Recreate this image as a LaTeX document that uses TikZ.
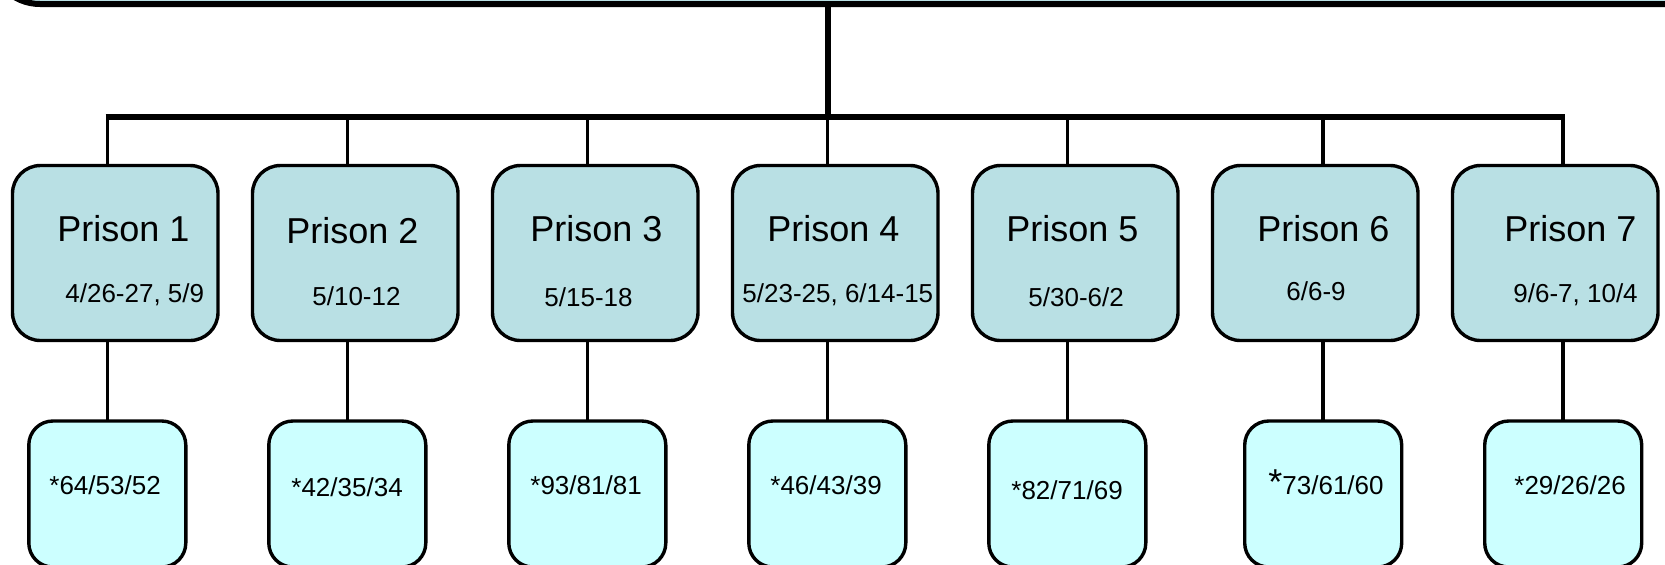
\documentclass[tikz,border=0pt]{standalone}
\usepackage{fontspec}
\setmainfont{Liberation Sans}
\definecolor{prisonfill}{RGB}{185,224,228}
\definecolor{countfill}{RGB}{204,255,255}
\begin{document}
\begin{tikzpicture}[x=0.5pt,y=-0.5pt,
  topbox/.style={draw, line width=3pt, fill=prisonfill, rounded corners=25pt, minimum width=875pt, minimum height=152pt, inner sep=0pt, outer sep=0pt},
  prisonbox/.style={draw, line width=1.7pt, fill=prisonfill, rounded corners=14pt, minimum width=102.75pt, minimum height=87.5pt, inner sep=0pt, outer sep=0pt},
  countbox/.style={draw, line width=1.7pt, fill=countfill, rounded corners=12pt, minimum width=78.5pt, minimum height=73pt, inner sep=0pt, outer sep=0pt},
  titletext/.style={anchor=base west, inner sep=0pt, font=\fontsize{18pt}{20pt}\selectfont},
  datetext/.style={anchor=base west, inner sep=0pt, font=\fontsize{13pt}{15pt}\selectfont},
  counttext/.style={anchor=base west, inner sep=0pt, font=\fontsize{13pt}{15pt}\selectfont},
  barline/.style={line width=3pt},
  link/.style={line width=1.75pt}]

\useasboundingbox (0,0) rectangle (1665,564);
\clip (0,0) rectangle (1665,564);

% top (cut-off) box
\node[topbox] (top) at (865,-148) {};

% column coordinates on the bar
\coordinate (hub) at (827.7,117);
\coordinate (c1) at (107.3,117);
\coordinate (c2) at (347.3,117);
\coordinate (c3) at (587.3,117);
\coordinate (c4) at (827.3,117);
\coordinate (c5) at (1067.3,117);
\coordinate (c6) at (1323.2,117);
\coordinate (c7) at (1563.2,117);

% prison boxes
\node[prisonbox] (p1) at (115.25,253) {};
\node[prisonbox] (p2) at (355.25,253) {};
\node[prisonbox] (p3) at (595.25,253) {};
\node[prisonbox] (p4) at (835.25,253) {};
\node[prisonbox] (p5) at (1075.25,253) {};
\node[prisonbox] (p6) at (1315.25,253) {};
\node[prisonbox] (p7) at (1555.25,253) {};

% count boxes
\node[countbox] (b1) at (107.3,494) {};
\node[countbox] (b2) at (347.3,494) {};
\node[countbox] (b3) at (587.3,494) {};
\node[countbox] (b4) at (827.3,494) {};
\node[countbox] (b5) at (1067.3,494) {};
\node[countbox] (b6) at (1323.2,494) {};
\node[countbox] (b7) at (1563.2,494) {};

% connectors
\draw[barline] (top.south -| hub) -- (hub);
\draw[barline] ([xshift=-0.85pt]c1) -- ([xshift=0.85pt]c7);
\foreach \i in {1,...,7}{
  \draw[link] (c\i) -- (c\i |- p\i.north);
  \draw[link] (p\i.south -| b\i.north) -- (b\i.north);
}

% titles
\node[titletext] (t1) at (57,241.7) {Prison 1};
\node[titletext] (t2) at (286,243) {Prison 2};
\node[titletext] (t3) at (530,241.7) {Prison 3};
\node[titletext] (t4) at (767,241.7) {Prison 4};
\node[titletext] (t5) at (1006,241.7) {Prison 5};
\node[titletext] (t6) at (1257,241.7) {Prison 6};
\node[titletext] (t7) at (1504,241.7) {Prison 7};

% dates
\node[datetext] (d1) at (65,302.7) {4/26-27, 5/9};
\node[datetext] (d2) at (312,305) {5/10-12};
\node[datetext] (d3) at (544,306) {5/15-18};
\node[datetext] (d4) at (742,302.7) {5/23-25, 6/14-15};
\node[datetext] (d5) at (1028,306) {5/30-6/2};
\node[datetext] (d6) at (1286,300) {6/6-9};
\node[datetext] (d7) at (1513,302.7) {9/6-7, 10/4};

% counts
\node[counttext] (n1) at (49,494) {*64/53/52};
\node[counttext] (n2) at (291,496.5) {*42/35/34};
\node[counttext] (n3) at (530,494) {*93/81/81};
\node[counttext] (n4) at (770,494) {*46/43/39};
\node[counttext] (n5) at (1011,499.5) {*82/71/69};
\node[counttext] (n6) at (1268,494) {{\fontsize{18pt}{20pt}\selectfont *}73/61/60};
\node[counttext] (n7) at (1514,494) {*29/26/26};
\end{tikzpicture}
\end{document}
